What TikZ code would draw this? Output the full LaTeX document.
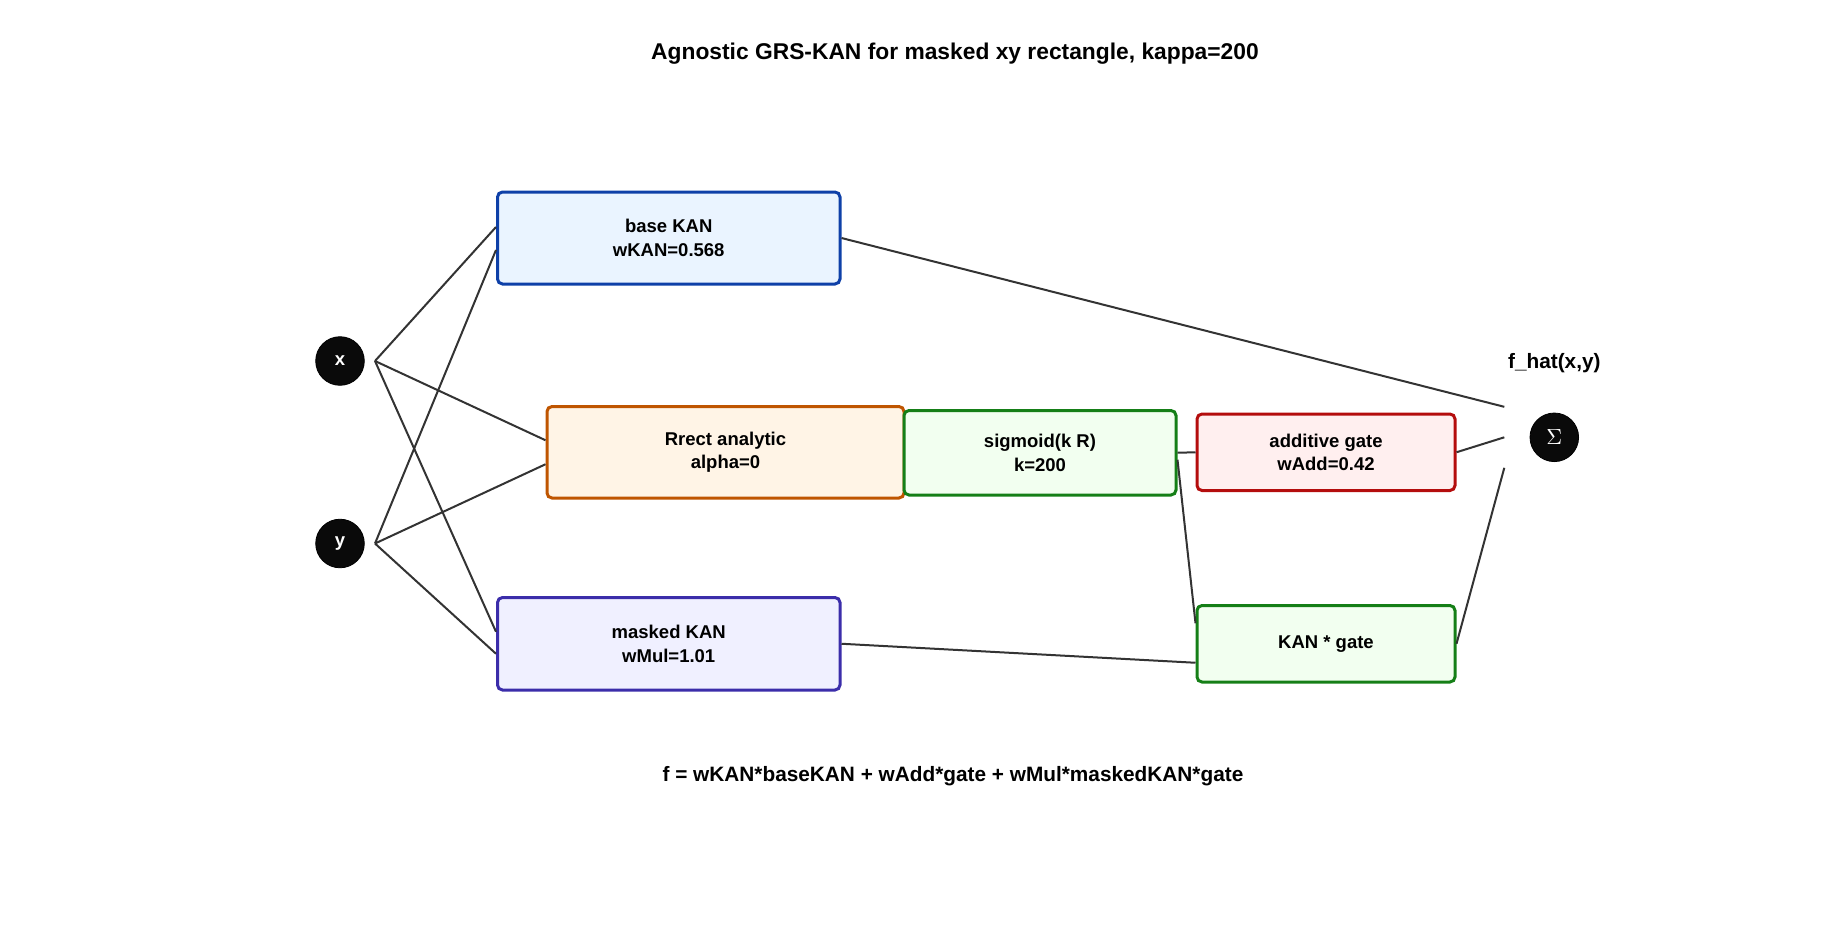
\documentclass[tikz,border=0pt]{standalone}
\usepackage{fontspec}
\setmainfont{Liberation Sans}
\usetikzlibrary{calc}
\definecolor{lnc}{HTML}{333333}
\definecolor{bluel}{HTML}{0E40A8}\definecolor{bluef}{HTML}{EAF4FF}
\definecolor{orgl}{HTML}{BF5500}\definecolor{orgf}{HTML}{FFF4E6}
\definecolor{grnl}{HTML}{157F17}\definecolor{grnf}{HTML}{F2FFF0}
\definecolor{redl}{HTML}{B40D0D}\definecolor{redf}{HTML}{FFEFEF}
\definecolor{purl}{HTML}{3B2DAA}\definecolor{purf}{HTML}{F0F0FF}
\begin{document}
\begin{tikzpicture}[x=0.5pt,y=-0.5pt,
  box/.style={rectangle,rounded corners=2.5pt,line width=1.5pt,align=center,
    inner sep=0pt,font=\fontsize{9.25pt}{11.75pt}\selectfont\bfseries},
  io/.style={circle,fill=black!96,draw=black,minimum size=24.3pt,inner sep=0pt,
    text=white,font=\fontsize{9.25pt}{11pt}\selectfont\bfseries},
  conn/.style={draw=lnc,line width=1pt},
  lbl/.style={font=\fontsize{10.4pt}{12pt}\selectfont\bfseries}]
\useasboundingbox (0,0) rectangle (1844,938);
\node[font=\fontsize{11.4pt}{13pt}\selectfont\bfseries] (title) at (955,54) {Agnostic GRS-KAN for masked xy rectangle, kappa=200};
\node[font=\fontsize{10.4pt}{12pt}\selectfont\bfseries] (foot) at (953,776) {f = wKAN*baseKAN + wAdd*gate + wMul*maskedKAN*gate};
\node[io] (x) at (340,361) {x};
\node[io] (y) at (340,543.5) {y};
\node[io,font=\fontsize{10.5pt}{11pt}\selectfont] (sig) at (1554.3,437.3) {$\Sigma$};
\node[lbl] (fhat) at (1554.3,363.3) {f\_hat(x,y)};
\node[box,draw=bluel,fill=bluef,minimum width=171.25pt,minimum height=46pt] (base) at (668.75,238) {base KAN\\wKAN=0.568};
\node[box,draw=orgl,fill=orgf,minimum width=178.5pt,minimum height=45.75pt] (rrect) at (725.5,452.25) {Rrect analytic\\alpha=0};
\node[box,draw=grnl,fill=grnf,minimum width=136pt,minimum height=42.25pt] (sigm) at (1040,452.75) {sigmoid(k R)\\k=200};
\node[box,draw=redl,fill=redf,minimum width=129pt,minimum height=38.25pt] (addg) at (1326,452.25) {additive gate\\wAdd=0.42};
\node[box,draw=grnl,fill=grnf,minimum width=129pt,minimum height=38.25pt] (kg) at (1326,643.75) {KAN * gate};
\node[box,draw=purl,fill=purf,minimum width=171.25pt,minimum height=46.25pt] (mask) at (668.75,643.75) {masked KAN\\wMul=1.01};
% inputs
\coordinate (xo) at ($(x.center)+(35,0)$);
\coordinate (yo) at ($(y.center)+(35,0)$);
\draw[conn] (xo) -- ($(base.west)+(0,-11)$);
\draw[conn] (xo) -- ($(rrect.west)+(0,-12)$);
\draw[conn] (xo) -- ($(mask.west)+(0,-12)$);
\draw[conn] (yo) -- ($(base.west)+(0,12)$);
\draw[conn] (yo) -- ($(rrect.west)+(0,12)$);
\draw[conn] (yo) -- ($(mask.west)+(0,10)$);
% gate
\draw[conn] (sigm.east) -- (addg.west);
\draw[conn] ($(sigm.east)+(0,7)$) -- ($(kg.west)+(0,-20.5)$);
\draw[conn] (mask.east) -- ($(kg.west)+(0,19)$);
% outputs
\draw[conn] (base.east) -- ($(sig.center)+(-50,-30.5)$);
\draw[conn] (addg.east) -- ($(sig.center)+(-50,0)$);
\draw[conn] (kg.east) -- ($(sig.center)+(-50,30.5)$);
\end{tikzpicture}
\end{document}
